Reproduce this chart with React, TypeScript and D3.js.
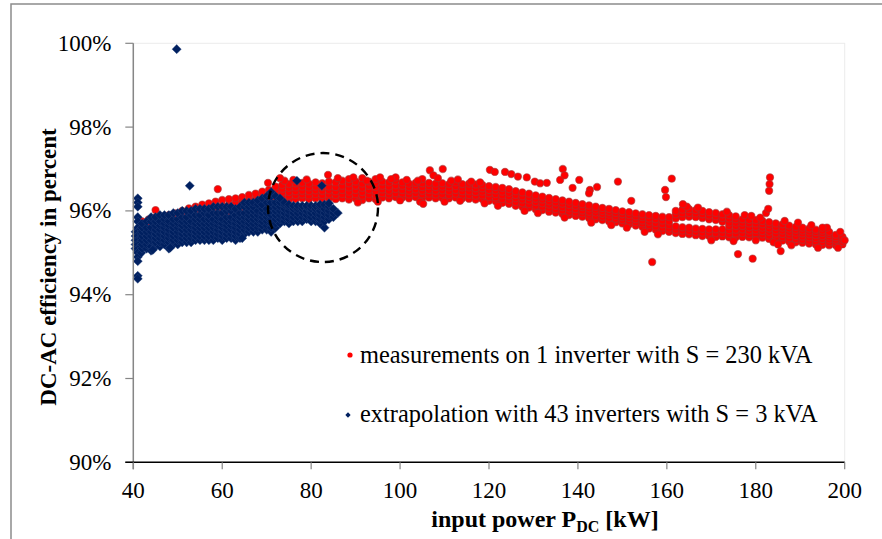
import React from "react";
import * as d3 from "d3";

// ---------- data ----------
const xTicks = [40, 60, 80, 100, 120, 140, 160, 180, 200];
const yTicks = [90, 92, 94, 96, 98, 100];

const legendLabels = [
  "measurements on 1 inverter with S = 230 kVA",
  "extrapolation with 43 inverters with S = 3 kVA",
];

// red series: [input power kW, efficiency values % in that column]
const redColumns: [number, number[]][] = [
  [41, [95.3, 95.42, 95.52]],
  [42, [95.45, 95.55, 95.65, 95.75]],
  [43.5, [95.5, 95.6, 95.7, 95.8]],
  [45, [95.55, 95.65, 95.75, 95.84]],
  [46.5, [95.58, 95.68, 95.77, 95.86]],
  [48, [95.6, 95.7, 95.8, 95.9]],
  [49.5, [95.64, 95.74, 95.84, 95.94]],
  [51, [95.7, 95.8, 95.9, 96.0]],
  [52.5, [95.74, 95.84, 95.94, 96.06]],
  [54, [95.8, 95.9, 96.0, 96.1]],
  [55.5, [95.84, 95.94, 96.04, 96.15]],
  [57, [95.86, 95.96, 96.07, 96.18]],
  [58.5, [95.88, 95.98, 96.1, 96.22]],
  [60, [95.9, 96.0, 96.12, 96.26]],
  [61.5, [95.94, 96.04, 96.15, 96.28]],
  [63, [95.98, 96.08, 96.19, 96.3]],
  [64.5, [96.0, 96.11, 96.22, 96.33]],
  [66, [96.04, 96.15, 96.26, 96.38]],
  [67.5, [96.08, 96.19, 96.3, 96.41]],
  [69, [96.1, 96.22, 96.34, 96.46]],
  [70.5, [96.14, 96.26, 96.38, 96.5]],
  [72, [96.22, 96.31, 96.4, 96.5, 96.58]],
  [73.5, [96.25, 96.34, 96.44, 96.53, 96.62]],
  [75, [96.27, 96.36, 96.45, 96.55, 96.64]],
  [76.5, [96.28, 96.38, 96.47, 96.56, 96.66]],
  [78, [96.3, 96.39, 96.48, 96.58, 96.67]],
  [79.5, [96.28, 96.37, 96.47, 96.56, 96.65]],
  [81, [96.3, 96.4, 96.49, 96.58, 96.68]],
  [82.5, [96.29, 96.38, 96.48, 96.57, 96.66]],
  [84, [96.3, 96.39, 96.49, 96.58, 96.7]],
  [85.5, [96.28, 96.38, 96.47, 96.57, 96.68]],
  [87, [96.3, 96.4, 96.5, 96.6, 96.72]],
  [88.5, [96.27, 96.37, 96.46, 96.56, 96.66, 96.76]],
  [90, [96.3, 96.4, 96.5, 96.6, 96.7]],
  [91.5, [96.26, 96.36, 96.45, 96.55, 96.65, 96.78]],
  [93, [96.3, 96.4, 96.5, 96.6, 96.7]],
  [94.5, [96.28, 96.38, 96.47, 96.57, 96.67, 96.76]],
  [96, [96.32, 96.42, 96.51, 96.6, 96.7]],
  [97.5, [96.3, 96.39, 96.48, 96.58, 96.68]],
  [99, [96.33, 96.42, 96.52, 96.61, 96.72, 96.8]],
  [100.5, [96.32, 96.41, 96.5, 96.6, 96.68]],
  [102, [96.3, 96.39, 96.48, 96.57, 96.65]],
  [103.5, [96.33, 96.42, 96.51, 96.6, 96.67]],
  [105, [96.3, 96.39, 96.48, 96.57, 96.66, 96.76]],
  [106.5, [96.32, 96.41, 96.5, 96.59, 96.67]],
  [108, [96.3, 96.39, 96.48, 96.57, 96.65]],
  [109.5, [96.31, 96.4, 96.49, 96.58, 96.66]],
  [111, [96.3, 96.38, 96.47, 96.56, 96.64]],
  [112.5, [96.32, 96.41, 96.5, 96.59, 96.68]],
  [114, [96.3, 96.38, 96.47, 96.56, 96.64]],
  [115.5, [96.29, 96.38, 96.47, 96.56, 96.65]],
  [117, [96.27, 96.36, 96.45, 96.54, 96.63]],
  [118.5, [96.28, 96.37, 96.46, 96.54, 96.62]],
  [120, [96.24, 96.33, 96.42, 96.5, 96.59]],
  [121.5, [96.23, 96.32, 96.4, 96.49, 96.57]],
  [123, [96.19, 96.28, 96.37, 96.46, 96.55]],
  [124.5, [96.17, 96.26, 96.35, 96.43, 96.52]],
  [126, [96.12, 96.21, 96.3, 96.38, 96.47]],
  [127.5, [96.1, 96.18, 96.27, 96.35, 96.44]],
  [129, [96.08, 96.16, 96.25, 96.33, 96.41]],
  [130.5, [96.04, 96.12, 96.21, 96.29, 96.37]],
  [132, [96.02, 96.1, 96.18, 96.27, 96.34]],
  [133.5, [95.98, 96.07, 96.15, 96.23, 96.31]],
  [135, [95.96, 96.04, 96.12, 96.2, 96.28]],
  [136.5, [95.93, 96.01, 96.09, 96.17, 96.25]],
  [138, [95.9, 95.98, 96.06, 96.14, 96.22]],
  [139.5, [95.88, 95.96, 96.04, 96.12, 96.19]],
  [141, [95.86, 95.94, 96.01, 96.09, 96.16]],
  [142.5, [95.83, 95.91, 95.98, 96.06, 96.13]],
  [144, [95.8, 95.88, 95.96, 96.03, 96.1]],
  [145.5, [95.78, 95.86, 95.93, 96.0, 96.07]],
  [147, [95.75, 95.83, 95.91, 95.98, 96.05]],
  [148.5, [95.73, 95.81, 95.88, 95.95, 96.02]],
  [150, [95.7, 95.78, 95.85, 95.92, 95.99]],
  [151.5, [95.68, 95.76, 95.83, 95.9, 95.97]],
  [153, [95.65, 95.73, 95.8, 95.87, 95.94]],
  [154.5, [95.62, 95.7, 95.77, 95.85, 95.92]],
  [156, [95.58, 95.66, 95.74, 95.82, 95.9]],
  [157.5, [95.55, 95.63, 95.71, 95.8, 95.88]],
  [159, [95.52, 95.6, 95.68, 95.77, 95.86]],
  [160.5, [95.5, 95.58, 95.66, 95.75, 95.85]],
  [162, [95.47, 95.55, 95.63, 95.82, 95.92, 96.0]],
  [163.5, [95.45, 95.53, 95.61, 95.85, 95.94, 96.03]],
  [165, [95.44, 95.52, 95.6, 95.86, 95.95, 96.04]],
  [166.5, [95.42, 95.5, 95.58, 95.85, 95.94, 96.02]],
  [168, [95.4, 95.48, 95.57, 95.83, 95.92, 96.0]],
  [169.5, [95.4, 95.48, 95.56, 95.8, 95.89, 95.97]],
  [171, [95.38, 95.47, 95.56, 95.78, 95.87, 95.95]],
  [172.5, [95.39, 95.47, 95.56, 95.74, 95.83, 95.92]],
  [174, [95.37, 95.45, 95.54, 95.64, 95.72, 95.82, 95.9]],
  [175.5, [95.37, 95.46, 95.55, 95.64, 95.72, 95.8, 95.87]],
  [177, [95.38, 95.47, 95.56, 95.64, 95.72, 95.8]],
  [178.5, [95.37, 95.45, 95.53, 95.61, 95.7, 95.78]],
  [180, [95.38, 95.46, 95.54, 95.62, 95.7, 95.78]],
  [181.5, [95.36, 95.44, 95.52, 95.6, 95.68, 95.76]],
  [183, [95.33, 95.41, 95.5, 95.58, 95.66, 95.73]],
  [184.5, [95.3, 95.38, 95.46, 95.54, 95.62, 95.7]],
  [186, [95.29, 95.37, 95.45, 95.53, 95.6, 95.68]],
  [187.5, [95.27, 95.35, 95.43, 95.5, 95.58, 95.65]],
  [189, [95.25, 95.33, 95.4, 95.48, 95.55, 95.62]],
  [190.5, [95.24, 95.31, 95.39, 95.46, 95.53, 95.6]],
  [192, [95.22, 95.29, 95.37, 95.44, 95.51, 95.58]],
  [193.5, [95.2, 95.27, 95.35, 95.42, 95.49, 95.55]],
  [195, [95.19, 95.26, 95.33, 95.4, 95.47, 95.53]],
  [196.5, [95.18, 95.25, 95.32, 95.39, 95.45, 95.5]],
  [198, [95.18, 95.25, 95.31, 95.37, 95.43]],
  [199.5, [95.2, 95.26, 95.32, 95.38]],
];

// red points sitting on the edges of the band
const redEdge: [number, number][] = [
  [74, 96.72], [79, 96.75], [86, 96.78], [89.5, 96.8], [92.5, 96.72],
  [95.5, 96.8], [98, 96.76], [101.5, 96.74], [104, 96.72], [111.5, 96.72],
  [113, 96.75], [116, 96.7], [118, 96.68], [90.5, 96.2], [95, 96.22],
  [100, 96.25], [104.5, 96.22], [110, 96.22], [113.5, 96.24], [119, 96.18],
  [122, 96.12], [128, 96.0], [131, 95.95], [137, 95.84], [143, 95.72],
  [147.5, 95.66], [151, 95.6], [155, 95.5], [158, 95.44], [170, 95.3],
  [175, 95.28], [180, 95.3], [188, 95.18], [194, 95.12], [198.5, 95.12],
  [200, 95.3], [164.5, 96.1], [167, 96.08], [173.5, 95.98], [177.5, 95.9],
  [179, 95.88], [181, 95.84], [186.5, 95.76], [189.5, 95.72], [192.5, 95.66],
  [196, 95.6], [199, 95.5],
];

const redOutliers: [number, number][] = [
  [45, 96.02], [59, 96.52], [70.3, 96.67], [73, 96.78], [76, 96.74],
  [83.8, 96.86], [105.2, 96.17], [106.7, 96.97], [107.5, 96.85],
  [108.5, 96.78], [109.6, 97.0], [120.2, 96.98], [121.3, 96.93],
  [123.6, 96.93], [125, 96.88], [126.5, 96.82], [128.5, 96.8],
  [130.3, 96.7], [131.5, 96.66], [133, 96.67], [136, 96.74],
  [136.6, 97.0], [137, 96.85], [138.8, 96.55], [140.3, 96.74],
  [142.7, 96.5], [142.5, 96.42], [144.3, 96.57], [149, 96.7],
  [152, 96.24], [156.7, 94.78], [159.6, 96.5], [159.8, 96.33],
  [161.1, 96.77], [163.6, 96.16], [176, 94.97], [179.3, 94.86],
  [182.3, 95.95], [182.8, 96.05], [183, 96.48], [183.1, 96.64],
  [183.2, 96.8], [185.6, 95.04], [195, 95.6], [184, 95.25], [185, 95.2],
];

// blue series: [input power kW, efficiency values % in that column]
const blueColumns: [number, number[]][] = [
  [40.5, [95.1, 95.2, 95.3, 95.4, 95.5]],
  [41, [96.3, 96.2, 96.1, 95.85, 95.75, 95.6, 95.5, 95.4, 95.3, 95.2, 95.1, 95.0, 94.9, 94.8, 94.45, 94.38]],
  [41.8, [95.0, 95.15, 95.25, 95.35, 95.45, 95.55]],
  [42, [95.1, 95.2, 95.3, 95.4, 95.5, 95.6, 95.7]],
  [43, [95.1, 95.2, 95.3, 95.4, 95.5, 95.6, 95.75]],
  [44, [95.05, 95.15, 95.3, 95.4, 95.5, 95.6, 95.75, 95.85]],
  [45, [95.15, 95.25, 95.35, 95.45, 95.55, 95.65, 95.75, 95.85]],
  [46, [95.15, 95.25, 95.35, 95.45, 95.55, 95.65, 95.75, 95.9]],
  [47, [95.2, 95.3, 95.4, 95.5, 95.6, 95.7, 95.8, 95.9]],
  [48, [95.1, 95.25, 95.35, 95.45, 95.55, 95.65, 95.75, 95.9]],
  [49, [95.2, 95.3, 95.4, 95.5, 95.6, 95.7, 95.8, 95.95]],
  [50, [95.2, 95.3, 95.4, 95.5, 95.6, 95.7, 95.8, 95.95]],
  [51, [95.25, 95.35, 95.45, 95.55, 95.65, 95.75, 95.85, 96.0]],
  [52, [95.25, 95.35, 95.45, 95.55, 95.65, 95.75, 95.85, 96.0]],
  [53, [95.25, 95.35, 95.45, 95.55, 95.65, 95.75, 95.9, 96.0]],
  [54, [95.3, 95.4, 95.5, 95.6, 95.7, 95.8, 95.9, 96.05]],
  [55, [95.3, 95.4, 95.5, 95.6, 95.7, 95.8, 95.9, 96.05]],
  [56, [95.3, 95.4, 95.5, 95.6, 95.7, 95.8, 95.95, 96.05]],
  [57, [95.3, 95.4, 95.5, 95.6, 95.7, 95.8, 95.9, 96.05]],
  [58, [95.3, 95.4, 95.5, 95.6, 95.7, 95.8, 95.95, 96.1]],
  [59, [95.35, 95.45, 95.55, 95.65, 95.75, 95.85, 95.95, 96.1]],
  [60, [95.3, 95.4, 95.5, 95.6, 95.7, 95.8, 95.95, 96.1]],
  [61, [95.35, 95.45, 95.55, 95.65, 95.75, 95.85, 96.0, 96.1]],
  [62, [95.35, 95.45, 95.55, 95.65, 95.75, 95.85, 96.0, 96.1]],
  [63, [95.3, 95.4, 95.5, 95.6, 95.7, 95.8, 95.9, 96.05]],
  [64, [95.35, 95.45, 95.55, 95.65, 95.75, 95.85, 95.95, 96.1]],
  [65, [95.45, 95.55, 95.65, 95.75, 95.85, 95.95, 96.1, 96.2]],
  [66, [95.5, 95.6, 95.7, 95.8, 95.9, 96.0, 96.1, 96.2]],
  [67, [95.5, 95.6, 95.7, 95.8, 95.9, 96.0, 96.1, 96.2]],
  [68, [95.5, 95.6, 95.7, 95.8, 95.9, 96.0, 96.15, 96.25]],
  [69, [95.55, 95.65, 95.75, 95.85, 95.95, 96.05, 96.15, 96.3]],
  [70, [95.55, 95.65, 95.75, 95.85, 95.95, 96.05, 96.2, 96.35]],
  [71, [95.5, 95.6, 95.7, 95.8, 95.9, 96.0, 96.1, 96.2, 96.35, 96.45]],
  [72, [95.6, 95.7, 95.8, 95.9, 96.0, 96.1, 96.2, 96.35]],
  [73, [95.7, 95.8, 95.9, 96.0, 96.1, 96.2, 96.3]],
  [74, [95.75, 95.85, 95.95, 96.05, 96.15, 96.2]],
  [75, [95.7, 95.8, 95.9, 96.0, 96.1, 96.15]],
  [76, [95.75, 95.85, 95.95, 96.05, 96.12]],
  [77, [95.75, 95.85, 95.95, 96.05, 96.12]],
  [78, [95.75, 95.85, 95.95, 96.05, 96.12]],
  [79, [95.8, 95.9, 96.0, 96.1, 96.12]],
  [80, [95.75, 95.85, 95.95, 96.05, 96.12]],
  [81, [95.75, 95.85, 95.95, 96.05, 96.12]],
  [82, [95.7, 95.8, 95.9, 96.0, 96.1, 96.15]],
  [83, [95.6, 95.75, 95.85, 95.95, 96.05, 96.15]],
  [84, [95.8, 95.9, 96.0, 96.1, 96.18]],
  [85, [95.85, 95.95, 96.05]],
  [86, [95.95]],
];

const blueOutliers: [number, number][] = [
  [49.76, 99.86], [52.7, 96.6], [76.8, 96.72], [82.4, 96.6],
  [44.4, 95.07], [48.3, 95.12], [64.5, 95.35],
];

// ---------- layout ----------
const W = 882;
const H = 539;
const margin = { left: 133.3, right: 844.7, top: 43.3, bottom: 462.3 };
const FONT = "'Liberation Serif', 'Times New Roman', Times, serif";

export default function App() {
  const x = d3.scaleLinear().domain([40, 200]).range([margin.left, margin.right]);
  const y = d3.scaleLinear().domain([90, 100]).range([margin.bottom, margin.top]);

  const redPts: [number, number][] = [];
  redColumns.forEach(([px, ys]) => ys.forEach((v) => redPts.push([px, v])));
  redEdge.forEach((p) => redPts.push(p));
  redOutliers.forEach((p) => redPts.push(p));
  const bluePts: [number, number][] = [];
  blueColumns.forEach(([px, ys]) => ys.forEach((v) => bluePts.push([px, v])));
  blueOutliers.forEach((p) => bluePts.push(p));

  const diamond = d3.symbol().type(d3.symbolSquare).size(42)() as string;
  const diamondSmall = d3.symbol().type(d3.symbolSquare).size(14)() as string;

  const navy = "#002060";
  const red = "#ff0000";

  return (
    <svg
      width={W}
      height={H}
      style={{ position: "absolute", left: 0, top: 0, background: "#fff" }}
      fontFamily={FONT}
    >
      <rect x={0} y={0} width={W} height={H} fill="#fff" />
      {/* outer frame */}
      <rect x={11} y={4} width={W} height={H} fill="none" stroke="#8c8c8c" strokeWidth={1.5} />
      {/* plot area frame */}
      <rect
        x={margin.left}
        y={margin.top}
        width={margin.right - margin.left}
        height={margin.bottom - margin.top}
        fill="none"
        stroke="#ececec"
        strokeWidth={1}
      />

      {/* red points */}
      <g>
        {redPts.map(([a, b], i) => (
          <circle
            key={"r" + i}
            cx={x(a)}
            cy={y(b)}
            r={3.6}
            fill={red}
            stroke="#a83232"
            strokeOpacity={0.6}
            strokeWidth={1.1}
          />
        ))}
      </g>
      {/* blue points */}
      <g>
        {bluePts.map(([a, b], i) => (
          <path
            key={"b" + i}
            d={diamond}
            transform={`translate(${x(a)},${y(b)}) rotate(45)`}
            fill={navy}
            stroke="#2a4680"
            strokeOpacity={0.5}
            strokeWidth={0.8}
          />
        ))}
      </g>

      {/* dashed circle */}
      <ellipse
        cx={x(82.67)}
        cy={y(96.08)}
        rx={55}
        ry={54.5}
        fill="none"
        stroke="#000"
        strokeWidth={2.4}
        strokeDasharray="9 6"
      />

      {/* y axis */}
      <line x1={margin.left} x2={margin.left} y1={margin.top} y2={margin.bottom + 7} stroke="#868686" strokeWidth={1.5} />
      {yTicks.map((t) => (
        <g key={"yt" + t}>
          <line x1={margin.left - 8} x2={margin.left} y1={y(t)} y2={y(t)} stroke="#868686" strokeWidth={1.2} />
          <text x={111.5} y={y(t) + 7.5} textAnchor="end" fontSize={23} fill="#000" fontFamily={FONT}>
            {t}%
          </text>
        </g>
      ))}

      {/* x axis */}
      <line x1={margin.left - 8} x2={margin.right} y1={margin.bottom} y2={margin.bottom} stroke="#000" strokeWidth={1.5} />
      {xTicks.map((t) => (
        <g key={"xt" + t}>
          <line x1={x(t)} x2={x(t)} y1={margin.bottom} y2={margin.bottom + 7} stroke="#868686" strokeWidth={1.2} />
          <text x={x(t)} y={497.5} textAnchor="middle" fontSize={23} fill="#000" fontFamily={FONT}>
            {t}
          </text>
        </g>
      ))}

      {/* axis titles */}
      <text x={545} y={527} textAnchor="middle" fontSize={24} fontWeight="bold" fill="#000" fontFamily={FONT}>
        input power P
        <tspan fontSize={16} dy={5}>DC</tspan>
        <tspan dy={-5}> [kW]</tspan>
      </text>
      <text
        transform="translate(56,267) rotate(-90)"
        textAnchor="middle"
        fontSize={23}
        fontWeight="bold"
        fill="#000"
        fontFamily={FONT}
      >
        DC-AC efficiency in percent
      </text>

      {/* legend */}
      <circle cx={350} cy={355} r={2.6} fill={red} />
      <text x={360} y={363} fontSize={24.4} fill="#000" fontFamily={FONT}>
        {legendLabels[0]}
      </text>
      <path d={diamondSmall} transform="translate(348,415) rotate(45)" fill={navy} />
      <text x={360} y={422} fontSize={24.4} fill="#000" fontFamily={FONT}>
        {legendLabels[1]}
      </text>
    </svg>
  );
}
